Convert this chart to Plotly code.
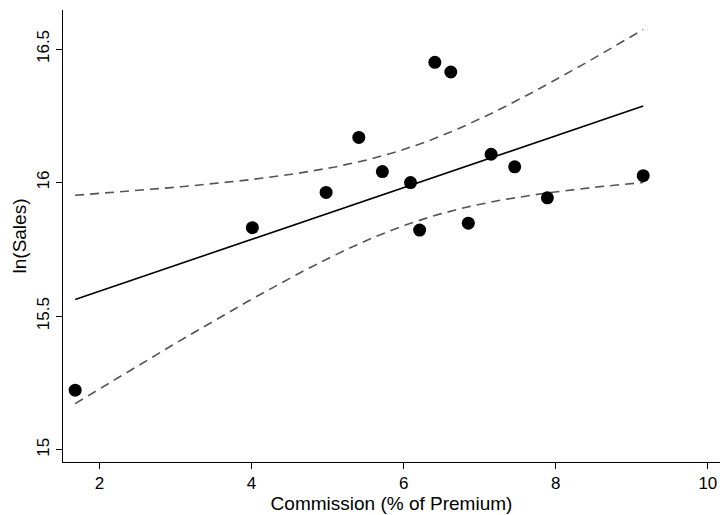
import numpy as np
import plotly.graph_objects as go

commission = [1.68, 4.01, 4.98, 5.41, 5.72, 6.09, 6.21, 6.41, 6.62, 6.85, 7.15, 7.46, 7.89, 9.15]
ln_sales = [15.223, 15.831, 15.963, 16.169, 16.041, 16.000, 15.822, 16.450, 16.414, 15.848, 16.106, 16.059, 15.943, 16.026]

x = np.array(commission)
y = np.array(ln_sales)
n = len(x)
b1, b0 = np.polyfit(x, y, 1)
resid = y - (b0 + b1 * x)
s = np.sqrt(np.sum(resid ** 2) / (n - 2))
t_crit = 2.1788  # t(0.975, df=12)
xs = np.linspace(x.min(), x.max(), 200)
yhat = b0 + b1 * xs
se = s * np.sqrt(1 / n + (xs - x.mean()) ** 2 / np.sum((x - x.mean()) ** 2))
upper = yhat + t_crit * se
lower = yhat - t_crit * se

font = "Liberation Sans, Arial, Helvetica, sans-serif"
fig = go.Figure()
fig.add_trace(go.Scatter(x=xs, y=upper, mode="lines",
                         line=dict(color="#555555", width=1.6, dash="9px,6px"), showlegend=False))
fig.add_trace(go.Scatter(x=xs, y=lower, mode="lines",
                         line=dict(color="#555555", width=1.6, dash="9px,6px"), showlegend=False))
fig.add_trace(go.Scatter(x=xs, y=yhat, mode="lines",
                         line=dict(color="black", width=1.6), showlegend=False))
fig.add_trace(go.Scatter(x=commission, y=ln_sales, mode="markers",
                         marker=dict(color="black", size=13), showlegend=False))

fig.update_layout(
    width=720, height=515,
    margin=dict(l=63, r=0, t=10, b=53),
    plot_bgcolor="white", paper_bgcolor="white",
    font=dict(family=font, size=17, color="black"),
)
fig.update_xaxes(range=[1.52, 10.16], tickvals=[2, 4, 6, 8, 10], ticktext=["2", "4", "6", "8", "10"],
                 showline=True, linecolor="black", linewidth=1, ticks="outside", ticklen=6,
                 tickcolor="black", showgrid=False, zeroline=False,
                 title=dict(text="Commission (% of Premium)", standoff=0, font=dict(size=19)))
fig.update_yaxes(range=[14.954, 16.646], tickvals=[15, 15.5, 16, 16.5], ticktext=["15", "15.5", "16", "16.5"],
                 tickangle=-90,
                 showline=True, linecolor="black", linewidth=1, ticks="outside", ticklen=6,
                 tickcolor="black", showgrid=False, zeroline=False,
                 title=dict(text="ln(Sales)", standoff=2, font=dict(size=19)))

fig.write_html("out.html")
